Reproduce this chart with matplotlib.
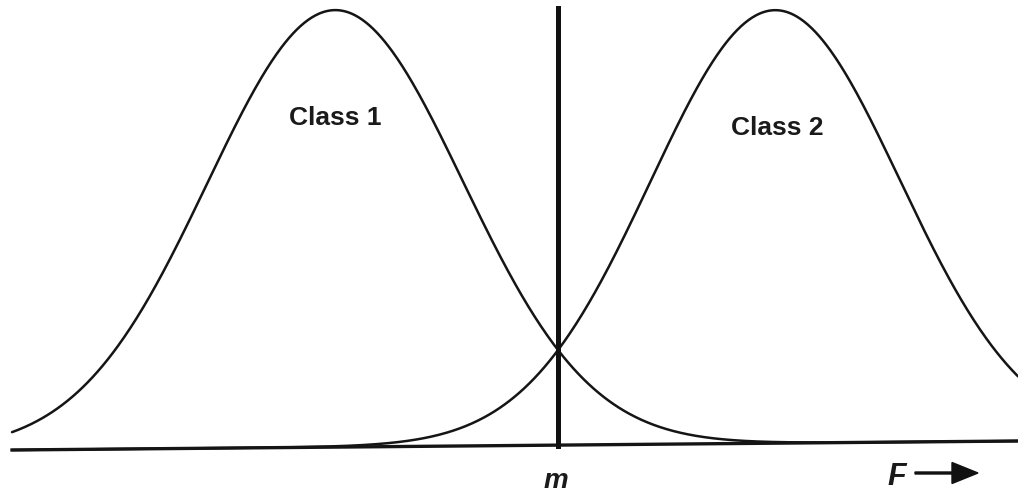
import numpy as np
import matplotlib
matplotlib.use('Agg')
import matplotlib.pyplot as plt

# 两个类别的分布参数 (像素坐标)
class_names = ['Class 1', 'Class 2']
means = [335, 775]
sigmas = [127.7, 124.6]
peaks = [437, 433]
label_pos = [(335, 118), (777, 128)]

# 判别阈值 m
threshold = 558

# 底线 (扫描图略有倾斜)
base_x = [12, 1018]
base_y = [450, 441]

fig = plt.figure(figsize=(10.18, 4.95), dpi=100)
ax = fig.add_axes([0, 0, 1, 1])
ax.set_xlim(0, 1018)
ax.set_ylim(495, 0)
ax.axis('off')

x = np.linspace(12, 1018, 800)
baseline = np.interp(x, base_x, base_y)

for name, mu, s, h, pos in zip(class_names, means, sigmas, peaks, label_pos):
    y = baseline - h * np.exp(-(x - mu) ** 2 / (2 * s ** 2))
    ax.plot(x, y, color='#151515', lw=1.8, solid_capstyle='round')
    ax.text(pos[0], pos[1], name, ha='center', va='center',
            fontsize=19, fontweight='bold', family='Liberation Sans', color='#1a1a1a')

ax.plot(base_x, base_y, color='#151515', lw=2.4)
ax.plot([threshold, threshold], [8, 446], color='#111111', lw=3.6)

ax.text(556, 488, 'm', ha='center', va='baseline', fontsize=20,
        fontstyle='italic', fontweight='bold', family='Liberation Sans', color='#1a1a1a')
ax.text(897, 485, 'F', ha='center', va='baseline', fontsize=22,
        fontstyle='italic', fontweight='bold', family='Liberation Sans', color='#1a1a1a')
ax.arrow(915, 473, 63, 0, width=2, head_width=21, head_length=26,
         length_includes_head=True, color='#111111')

plt.savefig('out.png', dpi=100)
